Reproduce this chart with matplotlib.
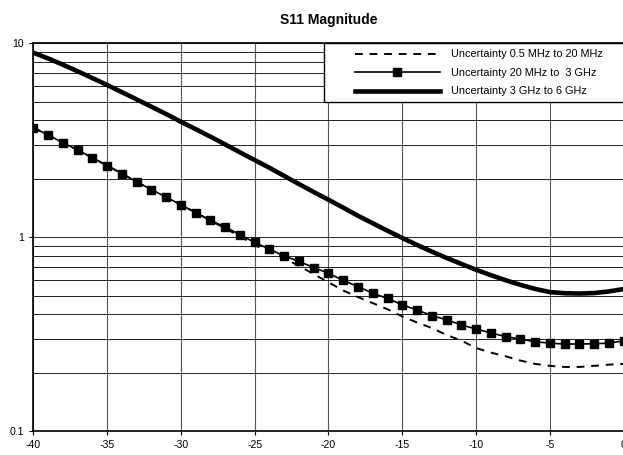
import numpy as np
import matplotlib
matplotlib.use("Agg")
import matplotlib.pyplot as plt
from matplotlib.ticker import FixedLocator, NullFormatter
from matplotlib.legend_handler import HandlerLine2D

plt.rcParams['font.family'] = ['Liberation Sans', 'DejaVu Sans']

# return loss (dB) axis
rl_db = list(range(-40, 1))

# Uncertainty 0.5 MHz to 20 MHz (dashed)
unc_low = [3.67, 3.37, 3.07, 2.82, 2.57, 2.34, 2.13, 1.93, 1.76, 1.61,
           1.47, 1.34, 1.22, 1.11, 1.01, 0.912, 0.837, 0.779, 0.711, 0.645,
           0.585, 0.531, 0.491, 0.457, 0.425, 0.390, 0.363, 0.340, 0.313, 0.293,
           0.268, 0.254, 0.243, 0.231, 0.222, 0.217, 0.214, 0.214, 0.217, 0.220,
           0.222]

# Uncertainty 20 MHz to 3 GHz (squares)
unc_mid = [3.67, 3.37, 3.07, 2.82, 2.57, 2.34, 2.13, 1.93, 1.76, 1.61,
           1.47, 1.34, 1.22, 1.13, 1.03, 0.94, 0.867, 0.80, 0.75, 0.697,
           0.652, 0.598, 0.556, 0.514, 0.483, 0.448, 0.421, 0.394, 0.375, 0.353,
           0.336, 0.321, 0.307, 0.298, 0.289, 0.284, 0.281, 0.281, 0.282, 0.284,
           0.292]

# Uncertainty 3 GHz to 6 GHz (thick)
unc_high = [8.95, 8.36, 7.76, 7.18, 6.62, 6.10, 5.60, 5.14, 4.71, 4.32,
            3.94, 3.61, 3.30, 3.01, 2.74, 2.50, 2.28, 2.07, 1.88, 1.71,
            1.56, 1.42, 1.29, 1.18, 1.08, 0.991, 0.912, 0.843, 0.782, 0.728,
            0.679, 0.637, 0.600, 0.568, 0.541, 0.521, 0.514, 0.512, 0.515, 0.525,
            0.540]

labels = ['Uncertainty 0.5 MHz to 20 MHz',
          'Uncertainty 20 MHz to  3 GHz',
          'Uncertainty 3 GHz to 6 GHz']

fig = plt.figure(figsize=(6.23, 4.55), dpi=100)
ax = fig.add_axes([0.0535, 0.0527, 0.9475, 0.852])

ax.plot(rl_db, unc_low, color='black', lw=1.4, ls=(0, (4, 3.5)),
        label=labels[0], zorder=3)
ax.plot(rl_db, unc_mid, color='black', lw=1.2, marker='s', markersize=5.5,
        label=labels[1], zorder=4)
ax.plot(rl_db, unc_high, color='black', lw=3.3,
        label=labels[2], zorder=5)

ax.set_yscale('log')
ax.set_xlim(-40, 0)
ax.set_ylim(0.1, 10)

ax.xaxis.set_major_locator(FixedLocator(range(-40, 1, 5)))
ax.set_xticklabels([str(v) for v in range(-40, 1, 5)])
ax.yaxis.set_major_locator(FixedLocator([0.1, 1, 10]))
ax.set_yticklabels(['0.1', '1', '10'])
ax.yaxis.set_minor_locator(FixedLocator(
    [m * d for d in (0.1, 1) for m in range(2, 10)]))
ax.yaxis.set_minor_formatter(NullFormatter())

ax.grid(True, which='major', axis='x', color='#555555', lw=0.8)
ax.grid(True, which='both', axis='y', color='#222222', lw=0.7)
ax.tick_params(axis='both', which='major', labelsize=7.6, length=3,
               direction='out', width=0.8, colors='black')
ax.tick_params(axis='y', which='minor', length=0)

for side in ax.spines:
    ax.spines[side].set_linewidth(1.2)

ax.set_title('S11 Magnitude', fontsize=10, fontweight='bold', pad=14)

handles, _ = ax.get_legend_handles_labels()
hmap = {h: HandlerLine2D(xpad=2.3) for h in handles}
leg = ax.legend(handles, [s + '     ' for s in labels], loc='upper right',
                fontsize=7.85, handlelength=10.1, handler_map=hmap,
                fancybox=False, framealpha=1, edgecolor='black',
                borderaxespad=0, borderpad=0.55, labelspacing=0.78,
                handletextpad=1.0, numpoints=1)
leg.get_frame().set_linewidth(1.0)
leg.set_zorder(10)

fig.savefig('out.png', dpi=100)
